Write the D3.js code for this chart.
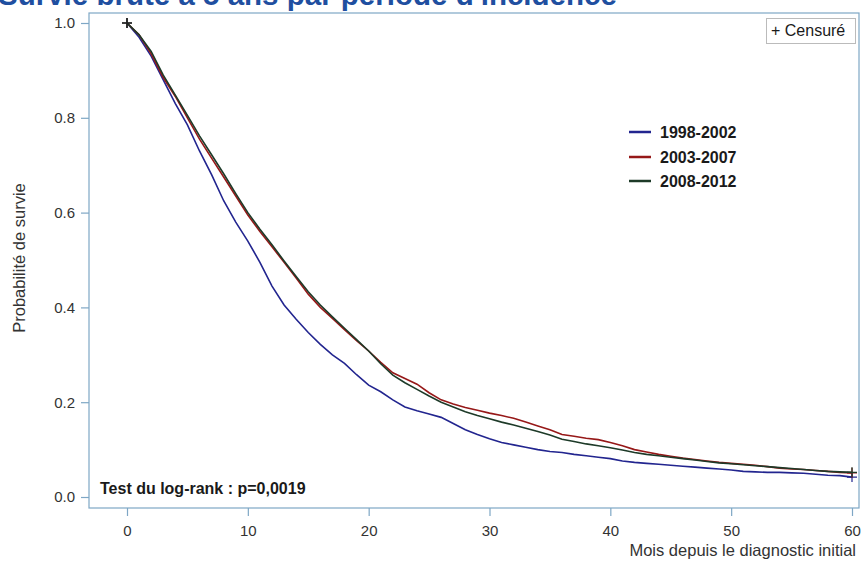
<!DOCTYPE html>
<html><head><meta charset="utf-8">
<script src="https://cdn.jsdelivr.net/npm/d3@7"></script>
<style>body{margin:0;background:#fff}svg{display:block}text{font-family:"Liberation Sans",Arial,sans-serif}</style>
</head><body>
<svg id="c" width="861" height="561"></svg>
<script>
const months = d3.range(0, 61);
const series = ["1998-2002", "2003-2007", "2008-2012"];
const s1998 = [1.000,0.97,0.93,0.88,0.83,0.785,0.73,0.68,0.625,0.58,0.54,0.495,0.445,0.405,0.375,0.347,0.322,0.300,0.282,0.258,0.236,0.222,0.205,0.190,0.182,0.175,0.168,0.155,0.142,0.132,0.123,0.115,0.110,0.105,0.100,0.096,0.094,0.090,0.087,0.084,0.081,0.076,0.073,0.071,0.069,0.067,0.065,0.063,0.061,0.059,0.057,0.054,0.053,0.052,0.052,0.051,0.050,0.048,0.046,0.045,0.042];
const s2003 = [1.000,0.975,0.935,0.885,0.845,0.80,0.755,0.715,0.675,0.635,0.595,0.56,0.528,0.495,0.462,0.428,0.400,0.377,0.353,0.330,0.308,0.284,0.262,0.250,0.238,0.220,0.205,0.196,0.189,0.183,0.177,0.172,0.166,0.158,0.150,0.142,0.132,0.128,0.124,0.121,0.115,0.108,0.100,0.095,0.090,0.086,0.082,0.079,0.076,0.073,0.071,0.069,0.067,0.064,0.061,0.059,0.058,0.056,0.054,0.052,0.051];
const s2008 = [1.000,0.975,0.94,0.89,0.848,0.805,0.762,0.722,0.682,0.64,0.60,0.565,0.532,0.498,0.465,0.433,0.405,0.38,0.356,0.332,0.308,0.281,0.257,0.241,0.227,0.213,0.200,0.190,0.180,0.172,0.165,0.158,0.152,0.145,0.138,0.131,0.122,0.117,0.112,0.108,0.104,0.099,0.094,0.090,0.087,0.084,0.081,0.078,0.075,0.072,0.070,0.068,0.066,0.064,0.062,0.060,0.058,0.056,0.054,0.053,0.052];
const xTicks = [0, 10, 20, 30, 40, 50, 60];
const yTicks = [0.0, 0.2, 0.4, 0.6, 0.8, 1.0];
const colors = ["#22258f", "#961818", "#1d3a28"];
const allSeries = [s1998, s2003, s2008];

const FF = '"Liberation Sans",Arial,sans-serif';
const svg = d3.select("#c");
const pL = 89, pR = 859, pT = 13, pB = 508;
const x = d3.scaleLinear().domain([0, 60]).range([127, 852]);
const y = d3.scaleLinear().domain([0, 1]).range([497, 23]);
const axisCol = "#7ea7c5";

// title (clipped at top)
const title = svg.append("text").attr("x", -2).attr("y", 5)
  .attr("font-size", 24).attr("font-weight", "bold").attr("fill", "#1f4fa0")
  .text("Survie brute à 5 ans par période d'incidence");
const tw = title.node().getComputedTextLength();
title.attr("font-size", 24 * 619 / tw);

// frame
svg.append("rect").attr("x", pL).attr("y", pT).attr("width", pR - pL).attr("height", pB - pT)
  .attr("fill", "none").attr("stroke", axisCol).attr("stroke-width", 1.2);

// y axis
const ya = svg.append("g").attr("transform", `translate(${pL},0)`)
  .call(d3.axisLeft(y).tickValues(yTicks).tickFormat(d3.format(".1f")).tickSize(8).tickPadding(6));
ya.select(".domain").remove();
ya.selectAll("line").attr("stroke", axisCol).attr("stroke-width", 1.2);
ya.selectAll("text").attr("font-size", 15).attr("fill", "#333").style("font-family", FF);

// x axis
const xa = svg.append("g").attr("transform", `translate(0,${pB})`)
  .call(d3.axisBottom(x).tickValues(xTicks).tickFormat(d3.format("d")).tickSize(8).tickPadding(9));
xa.select(".domain").remove();
xa.selectAll("line").attr("stroke", axisCol).attr("stroke-width", 1.2);
xa.selectAll("text").attr("font-size", 15).attr("fill", "#333").style("font-family", FF);

// axis titles
svg.append("text").attr("transform", "translate(25,258) rotate(-90)").attr("text-anchor", "middle")
  .attr("font-size", 16.5).attr("fill", "#333").text("Probabilité de survie");
svg.append("text").attr("x", 856).attr("y", 556).attr("text-anchor", "end")
  .attr("font-size", 16.5).attr("fill", "#333").text("Mois depuis le diagnostic initial");

// curves
const line = d3.line().x((d, i) => x(months[i])).y(d => y(d)).curve(d3.curveLinear);
allSeries.forEach((s, k) => {
  svg.append("path").datum(s).attr("d", line).attr("fill", "none")
    .attr("stroke", colors[k]).attr("stroke-width", 1.6);
});
// censor marks
allSeries.forEach((s, k) => {
  [0, 60].forEach(t => {
    const cx = x(t), cy = y(s[t]);
    svg.append("path").attr("d", `M${cx-5},${cy}H${cx+5}M${cx},${cy-5}V${cy+5}`)
      .attr("stroke", t === 0 ? "#222" : colors[k]).attr("stroke-width", 1.2);
  });
});

// legend
const ly = [132, 157, 181];
series.forEach((name, k) => {
  svg.append("line").attr("x1", 629).attr("x2", 651).attr("y1", ly[k]).attr("y2", ly[k])
    .attr("stroke", colors[k]).attr("stroke-width", 2.5);
  svg.append("text").attr("x", 660).attr("y", ly[k] + 6).attr("font-size", 16).attr("font-weight", "bold")
    .attr("fill", "#1a1a1a").text(name);
});

// censored box
svg.append("rect").attr("x", 766.5).attr("y", 18.5).attr("width", 89).attr("height", 25)
  .attr("fill", "#fff").attr("stroke", "#bbb");
svg.append("text").attr("x", 771).attr("y", 36).attr("font-size", 16).attr("fill", "#1a1a1a").text("+ Censuré");

// log-rank
svg.append("text").attr("x", 100).attr("y", 494).attr("font-size", 16).attr("font-weight", "bold")
  .attr("fill", "#1a1a1a").text("Test du log-rank : p=0,0019");
</script>
</body></html>
